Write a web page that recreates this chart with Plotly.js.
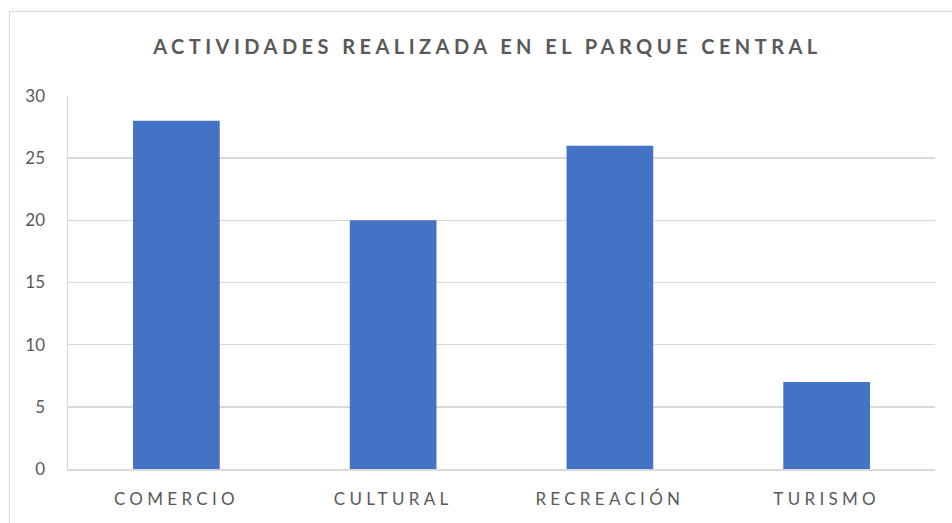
<!DOCTYPE html>
<html>
<head>
<meta charset="utf-8">
<script src="https://cdn.plot.ly/plotly-3.0.1.min.js"></script>
<style>
  html, body { margin: 0; padding: 0; background: #ffffff; overflow: hidden; }
  #wrap { position: relative; width: 952px; height: 523px; }
  #frame { position: absolute; left: 9px; top: 11px; width: 1000px; height: 600px; border: 1.5px solid #d9d9d9; box-sizing: border-box; pointer-events: none; }
  #chart { position: absolute; left: 0; top: 0; width: 952px; height: 523px; }
  .gtitle { letter-spacing: 4.45px; }
  .xtick text { letter-spacing: 4.3px; }
</style>
</head>
<body>
<div id="wrap">
  <div id="frame"></div>
  <div id="chart"></div>
</div>
<script>
const categories = ["COMERCIO", "CULTURAL", "RECREACIÓN", "TURISMO"];
const values = [28, 20, 26, 7];
const yTicks = [0, 5, 10, 15, 20, 25, 30];
const chartTitle = "ACTIVIDADES REALIZADA EN EL PARQUE CENTRAL";

const fontFam = "Lato, 'Open Sans', sans-serif";
const textColor = "#595959";
const gridColor = "#d9d9d9";

Plotly.newPlot("chart", [{
  type: "bar",
  x: categories,
  y: values,
  marker: { color: "#4472c4" },
  hoverinfo: "x+y"
}], {
  width: 952,
  height: 523,
  margin: { l: 68, r: 17, t: 96, b: 54, pad: 0 },
  paper_bgcolor: "rgba(0,0,0,0)",
  plot_bgcolor: "rgba(0,0,0,0)",
  bargap: 0.6,
  showlegend: false,
  title: {
    text: chartTitle,
    x: 0.512, xanchor: "center",
    y: 1 - 47 / 523, yanchor: "middle", yref: "container",
    font: { family: fontFam, size: 20, color: textColor, weight: "bold" }
  },
  xaxis: {
    type: "category",
    showgrid: false,
    showline: true, linecolor: gridColor, linewidth: 1.5,
    ticks: "", ticklabelstandoff: 14,
    tickfont: { family: fontFam, size: 17, color: textColor }
  },
  yaxis: {
    range: [0, 30],
    tickvals: yTicks,
    showgrid: true, gridcolor: gridColor, gridwidth: 1.5,
    zeroline: false,
    showline: true, linecolor: gridColor, linewidth: 1.5,
    ticks: "", ticklabelstandoff: 18,
    tickfont: { family: fontFam, size: 17, color: textColor }
  }
}, { displayModeBar: false, staticPlot: true });
</script>
</body>
</html>
